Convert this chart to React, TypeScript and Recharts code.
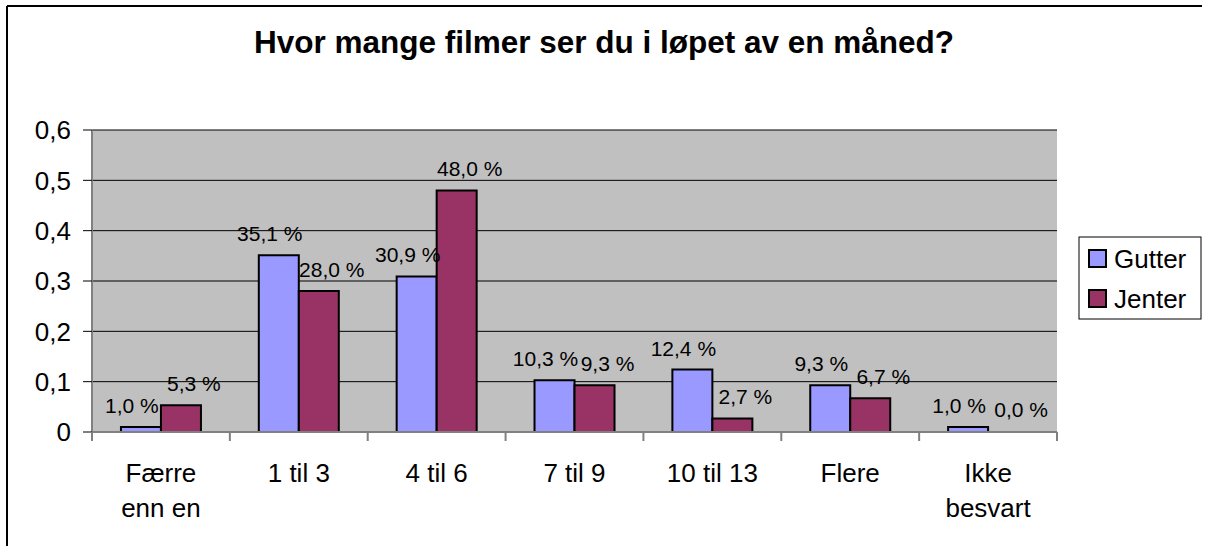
import { BarChart, Bar, XAxis, YAxis, CartesianGrid, LabelList, Cell } from 'recharts';

const categories = ['Færre\nenn en', '1 til 3', '4 til 6', '7 til 9', '10 til 13', 'Flere', 'Ikke\nbesvart'];
const gutter = [0.01, 0.351, 0.309, 0.103, 0.124, 0.093, 0.01];
const jenter = [0.053, 0.28, 0.48, 0.093, 0.027, 0.067, 0.0];
const yTicks = [0, 0.1, 0.2, 0.3, 0.4, 0.5, 0.6];

const series = [
  { key: 'gutter', name: 'Gutter', fill: '#9999FF', values: gutter, dx: -9 },
  { key: 'jenter', name: 'Jenter', fill: '#993366', values: jenter, dx: 13 },
];

const data = categories.map((c, i) => ({ name: c, gutter: gutter[i], jenter: jenter[i] }));

const W = 1207;
const H = 546;
const M = { top: 130, right: 150, bottom: 34, left: 0 };
const Y_W = 92;
const X_H = 80;
const FONT = '"Liberation Sans", Arial, sans-serif';
const BAND = (W - M.right - Y_W) / categories.length;

const pct = (v: any) => (Number(v) * 100).toFixed(1).replace('.', ',') + ' %';
const dec = (v: number) => (v === 0 ? '0' : String(v).replace('.', ','));

const CatTick = (props: any) => {
  const { x, y, payload, index } = props;
  const lines = String(payload.value).split('\n');
  const left = x - BAND / 2;
  return (
    <g>
      <line x1={left} y1={y} x2={left} y2={y + 9} stroke="#808080" strokeWidth={2} />
      {index === categories.length - 1 && (
        <line x1={left + BAND} y1={y} x2={left + BAND} y2={y + 9} stroke="#808080" strokeWidth={2} />
      )}
      <text x={x} y={y + 50} textAnchor="middle" fontSize={26} fontFamily={FONT} fill="#000">
        {lines.map((l, i) => (
          <tspan key={i} x={x} dy={i === 0 ? 0 : 35}>{l}</tspan>
        ))}
      </text>
    </g>
  );
};

const makeLabel = (dx: number) => (props: any) => {
  const { x, y, width, height, value } = props;
  const top = Math.min(Number(y), Number(y) + Number(height || 0));
  return (
    <text x={Number(x) + Number(width) / 2 + dx} y={top - 14} textAnchor="middle" fontSize={21} fontFamily={FONT} fill="#000">
      {pct(value)}
    </text>
  );
};

export default function App() {
  return (
    <div style={{ position: 'absolute', left: 0, top: 0, width: W, height: H, background: '#fff' }}>
      <BarChart width={W} height={H} data={data} margin={M} barCategoryGap="21%" barGap={0}>
        <CartesianGrid vertical={false} stroke="#000" strokeWidth={1} fill="#C0C0C0" fillOpacity={1} />
        <XAxis
          dataKey="name"
          height={X_H}
          interval={0}
          tickLine={false}
          tickSize={0}
          tickMargin={0}
          tick={<CatTick />}
          axisLine={{ stroke: '#808080', strokeWidth: 2 }}
        />
        <XAxis xAxisId="top" orientation="top" dataKey="name" height={0} tick={false} tickLine={false}
          axisLine={{ stroke: '#808080', strokeWidth: 2 }} />
        <YAxis
          width={Y_W}
          domain={[0, 0.6]}
          ticks={yTicks}
          interval={0}
          tickFormatter={dec}
          tickSize={9}
          tickMargin={12}
          tickLine={{ stroke: '#000', strokeWidth: 1 }}
          axisLine={{ stroke: '#808080', strokeWidth: 2 }}
          tick={{ fontSize: 26, fontFamily: FONT, fill: '#000' }}
        />
        <YAxis yAxisId="right" orientation="right" width={0} domain={[0, 0.6]} tick={false} tickLine={false}
          axisLine={{ stroke: '#808080', strokeWidth: 2 }} />
        {series.map((s) => {
          const Label = makeLabel(s.dx);
          return (
            <Bar key={s.key} dataKey={s.key} name={s.name} fill={s.fill} stroke="#000" strokeWidth={2}
              minPointSize={(v: number) => (v === 0 ? 1 : 0)} isAnimationActive={false}>
              {s.values.map((v, i) => (
                <Cell key={i} fill={v === 0 ? 'none' : s.fill} stroke={v === 0 ? 'none' : '#000'} />
              ))}
              <LabelList dataKey={s.key} content={<Label />} />
            </Bar>
          );
        })}
      </BarChart>
      <svg width={W} height={H} style={{ position: 'absolute', left: 0, top: 0, pointerEvents: 'none' }}>
        <line x1={7} y1={6} x2={1202} y2={6} stroke="#000" strokeWidth={2} />
        <line x1={7} y1={6} x2={7} y2={H} stroke="#000" strokeWidth={2} />
        <text x={604} y={53} textAnchor="middle" fontSize={31.5} fontWeight="bold" fontFamily={FONT} fill="#000">
          Hvor mange filmer ser du i løpet av en måned?
        </text>
        <rect x={1079} y={237} width={122} height={82} fill="#fff" stroke="#000" strokeWidth={1} />
        {series.map((s, i) => (
          <g key={s.key}>
            <rect x={1089} y={250 + i * 40} width={17} height={17} fill={s.fill} stroke="#000" strokeWidth={2} />
            <text x={1114} y={268 + i * 40} fontSize={26} fontFamily={FONT} fill="#000">{s.name}</text>
          </g>
        ))}
      </svg>
    </div>
  );
}
